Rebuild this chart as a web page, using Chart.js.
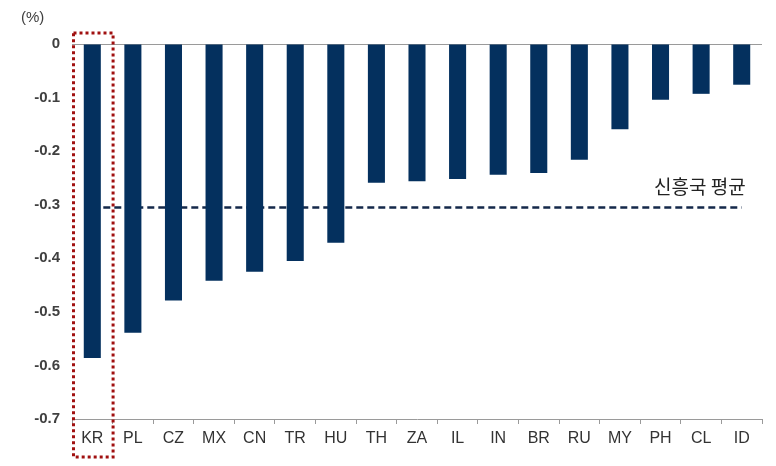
<!DOCTYPE html>
<html>
<head>
<meta charset="utf-8">
<script src="https://cdn.jsdelivr.net/npm/chart.js@4.4.1/dist/chart.umd.min.js"></script>
<style>
  html, body { margin: 0; padding: 0; background: #fff; }
  #wrap { width: 776px; height: 466px; }
</style>
</head>
<body>
<div id="wrap"><canvas id="myChart"></canvas></div>
<script>
const ctx = document.getElementById("myChart");

var arrLabels = ["KR", "PL", "CZ", "MX", "CN", "TR", "HU", "TH", "ZA",
  "IL", "IN", "BR", "RU", "MY", "PH", "CL", "ID"];
var arrData = [-0.586, -0.539, -0.479, -0.442, -0.425, -0.405, -0.371,
  -0.259, -0.256, -0.252, -0.244, -0.241, -0.216, -0.159, -0.104, -0.093, -0.076];
var emAverage = -0.305;
var avgLabel = "신흥국 평균";
var yTicks = [0, -0.1, -0.2, -0.3, -0.4, -0.5, -0.6, -0.7];

const overlay = {
  id: "overlay",
  afterDraw: function (chart) {
    const c = chart.ctx;
    const x = chart.scales.x;
    const y = chart.scales.y;
    c.save();
    // (%) unit
    c.fillStyle = "#404040";
    c.font = "15px 'Liberation Sans', Arial, sans-serif";
    c.textAlign = "left";
    c.textBaseline = "middle";
    c.fillText("(%)", 21, 18);
    // average label
    c.fillStyle = "#222";
    c.font = "19px 'Noto Sans CJK KR', sans-serif";
    c.textAlign = "right";
    c.textBaseline = "middle";
    c.fillText(avgLabel, x.getPixelForValue(arrLabels.length - 1) + 4, y.getPixelForValue(emAverage) - 21);
    // red dotted box around KR
    const half = (x.getPixelForValue(1) - x.getPixelForValue(0)) / 2;
    const cx = x.getPixelForValue(0);
    c.strokeStyle = "#a01010";
    c.lineWidth = 3;
    c.setLineDash([3, 3]);
    c.strokeRect(cx - half + 1.5, y.getPixelForValue(0) - 11, half * 2 - 1, 424);
    c.restore();
  },
};

new Chart(ctx, {
  data: {
    labels: arrLabels,
    datasets: [
      {
        type: "bar",
        label: "value",
        data: arrData,
        backgroundColor: "#04305e",
        barPercentage: 0.42,
        categoryPercentage: 1,
        order: 1,
      },
      {
        type: "line",
        label: avgLabel,
        data: arrLabels.map(() => emAverage),
        borderColor: "#14294a",
        borderWidth: 2.5,
        borderDash: [7, 4],
        pointRadius: 0,
        fill: false,
        order: 2,
      },
    ],
  },
  options: {
    responsive: true,
    maintainAspectRatio: false,
    animation: false,
    layout: { padding: { top: 44, right: 14, left: 0, bottom: 0 } },
    plugins: {
      legend: { display: false },
      tooltip: { enabled: false },
    },
    scales: {
      x: {
        offset: true,
        grid: {
          offset: true,
          drawOnChartArea: false,
          drawTicks: true,
          tickLength: 5,
          color: "#9a9a9a",
        },
        border: { color: "#9a9a9a", width: 1 },
        ticks: {
          color: "#333",
          padding: 5,
          font: { family: "'Liberation Sans', Arial, sans-serif", size: 16 },
        },
        afterFit: function (scale) { scale.height = 47; },
      },
      y: {
        min: -0.7,
        max: 0,
        afterBuildTicks: function (scale) {
          scale.ticks = yTicks.map((v) => ({ value: v }));
        },
        grid: {
          drawTicks: false,
          color: (c) => (c.tick && c.tick.value === 0 ? "#9a9a9a" : "rgba(0,0,0,0)"),
        },
        border: { display: false },
        ticks: {
          color: "#404040",
          padding: 12,
          callback: (v) => String(Math.round(v * 10) / 10),
          font: { family: "'Liberation Sans', Arial, sans-serif", size: 15, weight: "bold" },
        },
        afterFit: function (scale) { scale.width = 72; },
      },
    },
  },
  plugins: [overlay],
});
</script>
</body>
</html>
